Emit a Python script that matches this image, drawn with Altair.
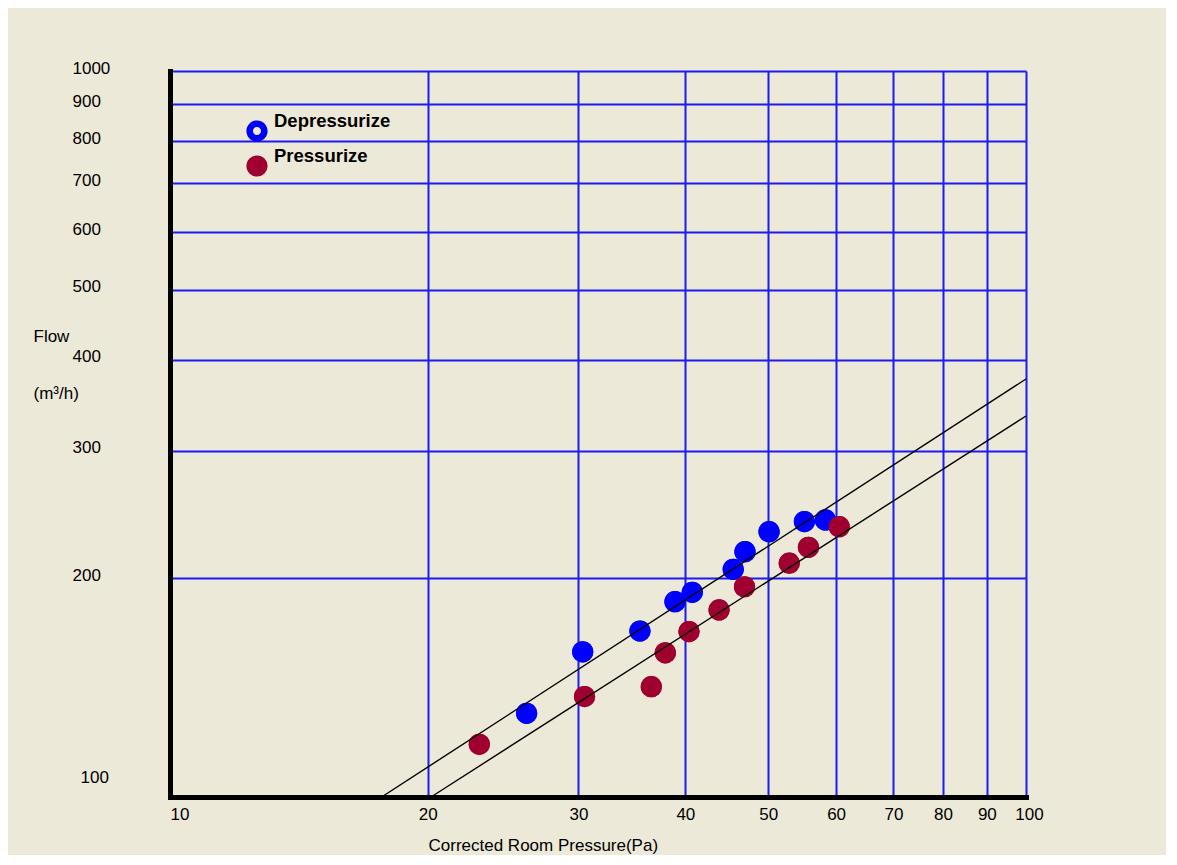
import altair as alt
import pandas as pd

# ---- data ----
series_names = ["Depressurize", "Pressurize"]

dep_pressure = [26.1, 30.35, 35.4, 38.9, 40.75, 45.5, 46.96, 50.1, 55.1, 58.3]
dep_flow = [130.4, 158.5, 169.3, 185.8, 191.4, 205.9, 217.7, 232.0, 239.5, 240.8]

pres_pressure = [22.98, 30.5, 36.5, 37.9, 40.4, 43.8, 46.9, 52.9, 55.7, 60.5]
pres_flow = [118.2, 137.5, 141.9, 158.0, 169.0, 181.0, 194.8, 209.9, 220.8, 235.7]

# fitted power-law lines (end points)
fit_dep_pressure = [17.67, 100]
fit_dep_flow = [100, 376.5]
fit_pres_pressure = [20.18, 100]
fit_pres_flow = [100, 334.8]

x_ticks = [10, 20, 30, 40, 50, 60, 70, 80, 90, 100]
y_ticks = [100, 200, 300, 400, 500, 600, 700, 800, 900, 1000]

# ---- tables ----
points = pd.DataFrame({
    "series": [series_names[0]] * len(dep_pressure) + [series_names[1]] * len(pres_pressure),
    "pressure": dep_pressure + pres_pressure,
    "flow": dep_flow + pres_flow,
})
fits = pd.DataFrame({
    "series": [series_names[0]] * 2 + [series_names[1]] * 2,
    "pressure": fit_dep_pressure + fit_pres_pressure,
    "flow": fit_dep_flow + fit_pres_flow,
})

BG = "#ECE9D8"
GRID = "#1A1AFA"
BLUE = "#0000FF"
RED = "#A00030"
FONT = "Liberation Sans"

ring = ("M -1 0 A 1 1 0 1 0 1 0 A 1 1 0 1 0 -1 0 Z "
        "M -0.38 0 A 0.38 0.38 0 1 1 0.38 0 A 0.38 0.38 0 1 1 -0.38 0 Z")

x_axis = alt.Axis(
    values=x_ticks, format="d", title="Corrected Room Pressure(Pa)",
    grid=True, gridColor=GRID, gridWidth=2,
    ticks=False, domainColor="black", domainWidth=5, domainCap="square",
    labelFont=FONT, labelFontSize=17, labelColor="black", labelPadding=9,
    labelFlush=False, labelOverlap=False,
    labelAlign={"condition": {"test": "datum.value === 10", "value": "left"}, "value": "center"},
    labelOffset={"condition": {"test": "datum.value === 100", "value": 3}, "value": 0},
    titleFont=FONT, titleFontSize=17, titleFontWeight="normal", titleColor="black",
    titleAlign="left", titleAnchor="start", titleX=258, titleY=53, titleBaseline="alphabetic",
)
y_axis = alt.Axis(
    values=y_ticks, format="d", title=["Flow", "(m³/h)"],
    grid=True, gridColor=GRID, gridWidth=2,
    ticks=False, domainColor="black", domainWidth=5, domainCap="square",
    labelFont=FONT, labelFontSize=17, labelColor="black",
    labelAlign="left", labelBaseline="middle", labelOverlap=False, labelFlush=False,
    labelPadding={"condition": {"test": "datum.value === 100", "value": 90}, "value": 98},
    labelOffset={"condition": {"test": "datum.value === 100", "value": -19.5}, "value": -3},
    titleFont=FONT, titleFontSize=17, titleFontWeight="normal", titleColor="black",
    titleAngle=0, titleAlign="left", titleBaseline="alphabetic",
    titleX=-137, titleY=270, titleLineHeight=57,
)

xs = alt.Scale(type="log", domain=[10, 100], nice=False)
ys = alt.Scale(type="log", domain=[100, 1000], nice=False)

legend = alt.Legend(
    orient="none", legendX=76, legendY=49, title=None, padding=0,
    labelFont=FONT, labelFontSize=18.5, labelFontWeight="bold", labelColor="black",
    labelOffset=6, labelBaseline="bottom", symbolSize=450, rowPadding=5,
    symbolStrokeWidth=0,
)

X = alt.X("pressure:Q", scale=xs, axis=x_axis)
Y = alt.Y("flow:Q", scale=ys, axis=y_axis)

under = alt.Chart(points).mark_point(filled=True, size=450, opacity=1).encode(
    x=X, y=Y,
    fill=alt.Fill("series:N", scale=alt.Scale(domain=series_names, range=[BLUE, RED]), legend=legend),
    shape=alt.Shape("series:N", scale=alt.Scale(domain=series_names, range=[ring, "circle"]), legend=legend),
)
top = alt.Chart(points).mark_point(filled=True, size=450, opacity=1, shape="circle").encode(
    x=X, y=Y,
    fill=alt.Fill("series:N", scale=alt.Scale(domain=series_names, range=[BLUE, RED]), legend=None),
)
lines = alt.Chart(fits).mark_line(color="black", strokeWidth=1.4).encode(
    x=X, y=Y, detail="series:N",
)

chart = alt.layer(under, top, lines).properties(
    width=856, height=726,
    background=BG,
    autosize=alt.AutoSizeParams(type="none"),
    padding={"left": 162, "top": 63, "right": 140, "bottom": 58},
).configure_view(stroke=None)

chart.save("out.html", embed_options={"renderer": "svg", "actions": False})
